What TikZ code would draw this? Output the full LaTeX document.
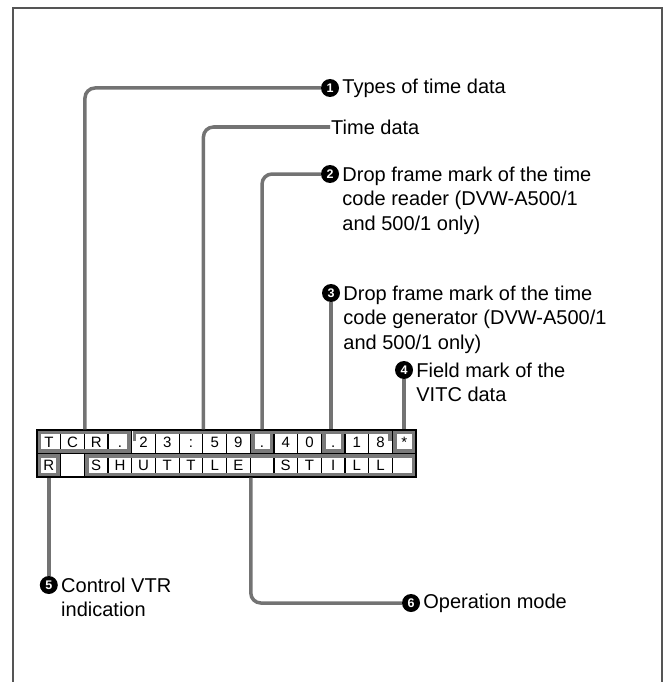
\documentclass[tikz,border=0pt]{standalone}
\usepackage{fontspec}
\setmainfont{Liberation Sans}
\usetikzlibrary{calc}
\definecolor{leadgray}{HTML}{737373}
\definecolor{hlgray}{HTML}{7A7A7A}
\definecolor{framegray}{HTML}{555555}
\begin{document}
\begin{tikzpicture}[x=1pt,y=-1pt,
  lead/.style={draw=leadgray, line width=3.5pt, rounded corners=10pt},
  hl/.style={draw=hlgray, line width=3.5pt},
  cell/.style={draw=black, line width=1.2pt, minimum width=23.69pt, minimum height=23.5pt, inner sep=0pt, text height=10.5pt, text depth=0pt, font=\fontsize{15}{15}\selectfont},
  bul/.style={circle, fill=black, text=white, inner sep=0pt, minimum size=18pt, font=\fontsize{12.5}{12.5}\selectfont\bfseries},
  lbl/.style={inner sep=0pt, align=left, font=\fontsize{20}{24.5}\selectfont}]
\useasboundingbox (0,0) rectangle (666,682);
% frame
\draw[framegray, line width=2pt] (13,682) -- (13,8) -- (662,8) -- (662,682);
% grid
\foreach \t [count=\i] in {{T},{C},{R},{.},{2},{3},{:},{5},{9},{.},{4},{0},{.},{1},{8},{*}}
  \node[cell] (r1c\i) at ({37+(\i-0.5)*23.69},441.75) {\t};
\foreach \t [count=\i] in {{R},{},{S},{H},{U},{T},{T},{L},{E},{},{S},{T},{I},{L},{L},{}}
  \node[cell] (r2c\i) at ({37+(\i-0.5)*23.69},465.25) {\t};
% highlights
\draw[hl] ([shift={(3.2,3.2)}]r1c1.north west) rectangle ([shift={(-3.2,-3.2)}]r1c4.south east);
\draw[hl] ([shift={(3.2,12)}]r1c5.north west) -- ([shift={(3.2,3.2)}]r1c5.north west) -- ([shift={(-3.2,3.2)}]r1c15.north east) -- ([shift={(-3.2,12)}]r1c15.north east);
\foreach \c in {10,13,16}
  \draw[hl] ([shift={(3.2,3.2)}]r1c\c.north west) rectangle ([shift={(-3.2,-3.2)}]r1c\c.south east);
\draw[hl] ([shift={(3.2,3.2)}]r2c1.north west) rectangle ([shift={(-3.2,-3.2)}]r2c1.south east);
\draw[hl] ([shift={(3.2,3.2)}]r2c3.north west) rectangle ([shift={(-3.2,-3.2)}]r2c16.south east);
% bullets and labels
\node[bul] (b1) at (330,88) {1};
\node[lbl, anchor=west] (t1) at ([xshift=3pt]b1.east) {Types of time data};
\coordinate (b0) at (330,127);
\node[lbl, anchor=west] (t0) at ([xshift=1pt]b0) {Time data};
\node[bul] (b2) at (330,174) {2};
\node[lbl, anchor=north west] (t2) at ([xshift=3pt,yshift=7.4pt]b2.east) {Drop frame mark of the time\\code reader (DVW-A500/1\\and 500/1 only)};
\node[bul] (b3) at (331,293) {3};
\node[lbl, anchor=north west] (t3) at ([xshift=3pt,yshift=7.4pt]b3.east) {Drop frame mark of the time\\code generator (DVW-A500/1\\and 500/1 only)};
\node[bul] (b4) at (404,370) {4};
\node[lbl, anchor=north west] (t4) at ([xshift=3pt,yshift=7.4pt]b4.east) {Field mark of the\\VITC data};
\node[bul] (b5) at (48.8,585) {5};
\node[lbl, anchor=north west] (t5) at ([xshift=3pt,yshift=7.4pt]b5.east) {Control VTR\\indication};
\node[bul] (b6) at (411,603) {6};
\node[lbl, anchor=west] (t6) at ([xshift=3pt]b6.east) {Operation mode};
% leaders
\draw[lead] (b1.west) -| (r1c2.north east);
\draw[lead] (b0) -| (r1c7.north east);
\draw[lead] (b2.west) -| (r1c10.north);
\draw[lead] (b3.south) -- (b3 |- r1c13.north);
\draw[lead] (b4.south) -- (b4 |- r1c16.north);
\draw[lead] (b5.north) -- (b5 |- r2c1.south);
\draw[lead] (b6.west) -| (r2c9.south east);
\end{tikzpicture}
\end{document}
